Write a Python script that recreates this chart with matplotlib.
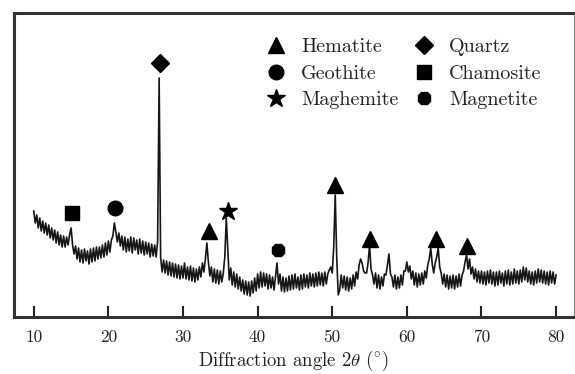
import numpy as np
import matplotlib
matplotlib.use("Agg")
import matplotlib.pyplot as plt
from matplotlib.lines import Line2D

plt.rcParams['font.family'] = ['cmr10', 'DejaVu Serif']
plt.rcParams['mathtext.fontset'] = 'cm'
plt.rcParams['axes.formatter.use_mathtext'] = True

# XRD intensity (arb. units), sampled every 0.2 deg from 10 to 80 deg
intensity = [
    106, 94, 102, 89, 99, 86, 96, 84, 94, 82,
    92, 79, 89, 77, 87, 74, 85, 72, 82, 70,
    81, 70, 80, 72, 82, 89, 72, 63, 71, 58,
    69, 55, 67, 54, 68, 56, 66, 53, 68, 55,
    69, 56, 70, 58, 70, 59, 72, 60, 74, 62,
    76, 65, 77, 81, 94, 85, 75, 84, 71, 81,
    67, 80, 65, 78, 66, 80, 64, 79, 67, 77,
    63, 78, 64, 76, 62, 75, 63, 74, 60, 73,
    61, 72, 60, 76, 239, 60, 45, 57, 44, 56,
    42, 55, 41, 54, 40, 53, 39, 52, 38, 51,
    39, 54, 38, 50, 37, 51, 36, 49, 35, 48,
    37, 50, 40, 54, 45, 58, 74, 55, 41, 50,
    35, 48, 34, 47, 33, 46, 35, 44, 60, 99,
    68, 37, 49, 32, 45, 30, 43, 28, 40, 26,
    37, 23, 36, 22, 35, 21, 36, 24, 39, 26,
    43, 29, 45, 30, 44, 31, 43, 28, 42, 29,
    40, 27, 41, 54, 33, 43, 26, 40, 25, 39,
    26, 41, 27, 42, 28, 43, 29, 40, 27, 42,
    28, 43, 30, 42, 29, 44, 31, 43, 30, 44,
    31, 45, 32, 44, 31, 45, 33, 43, 47, 50,
    44, 70, 122, 60, 22, 27, 42, 29, 41, 27,
    40, 26, 39, 28, 42, 31, 45, 38, 52, 58,
    54, 46, 44, 44, 54, 72, 48, 42, 33, 44,
    29, 42, 28, 40, 31, 43, 42, 52, 63, 43,
    40, 30, 42, 28, 40, 29, 42, 32, 46, 46,
    55, 45, 51, 38, 46, 32, 44, 30, 43, 32,
    44, 33, 46, 39, 52, 58, 69, 53, 44, 54,
    60, 69, 50, 44, 33, 43, 30, 42, 28, 41,
    29, 42, 28, 41, 30, 43, 31, 42, 46, 55,
    62, 48, 58, 43, 50, 38, 48, 35, 46, 34,
    46, 33, 45, 32, 46, 34, 47, 33, 45, 31,
    45, 32, 46, 34, 44, 31, 46, 33, 47, 32,
    45, 33, 48, 34, 46, 33, 47, 35, 50, 37,
    49, 35, 46, 33, 45, 32, 46, 34, 48, 35,
    47, 34, 46, 33, 45, 32, 46, 34, 45, 33,
    42,
]
two_theta = np.linspace(10, 80, len(intensity))

# phase markers: (phase, angle, height)
phase_names = ['Hematite', 'Geothite', 'Maghemite', 'Quartz', 'Chamosite', 'Magnetite']
phase_markers = ['^', 'o', '*', 'D', 's', '8']
phase_sizes = [11, 10.5, 13.5, 9, 9.5, 10]
peak_phase = ['Chamosite', 'Geothite', 'Quartz', 'Hematite', 'Maghemite', 'Magnetite',
              'Hematite', 'Hematite', 'Hematite', 'Hematite']
peak_angle = [15.1, 20.9, 26.9, 33.5, 36.05, 42.7, 50.4, 55.1, 63.9, 68.1]
peak_height = [104, 109, 254, 86, 106, 67, 132, 78, 78, 71]

xticks = [10, 20, 30, 40, 50, 60, 70, 80]

fig = plt.figure(figsize=(5.75, 3.74), dpi=100)
ax = fig.add_axes([14/575, 1-317/374, 560/575, 304/374])

ax.plot(two_theta, intensity, color='#161616', lw=1.2)

for ph, a, h in zip(peak_phase, peak_angle, peak_height):
    i = phase_names.index(ph)
    ax.plot([a], [h], linestyle='none', marker=phase_markers[i],
            markersize=phase_sizes[i], color='black')

ax.set_xlim(7.35, 82.4)
ax.set_ylim(0, 304)
ax.set_xticks(xticks)
ax.set_xticklabels([str(t) for t in xticks])
ax.set_yticks([])
ax.tick_params(axis='x', direction='in', length=8, width=1.5, pad=9,
               labelsize=12.5, labelcolor='#222222', color='#222222')
for s in ['left', 'top', 'bottom']:
    ax.spines[s].set_linewidth(2.2)
    ax.spines[s].set_color('#333333')
ax.spines['right'].set_linewidth(0.8)
ax.spines['right'].set_color('#888888')

ax.set_xlabel(r'Diffraction angle 2$\theta$ ($^{\circ}$)', fontsize=13.5,
              color='#222222', labelpad=3)

handles = [Line2D([], [], linestyle='none', marker=m, markersize=s, color='black')
           for m, s in zip(phase_markers, phase_sizes)]
leg = ax.legend(handles, phase_names, ncol=2, frameon=False, fontsize=14.5,
                loc='upper left', bbox_to_anchor=(264/575, 1-38/374),
                bbox_transform=fig.transFigure, handlelength=1.2,
                handletextpad=0.65, columnspacing=0.65, labelspacing=0.42,
                borderpad=0, borderaxespad=0)
for t in leg.get_texts():
    t.set_color('#222222')

fig.savefig('out.png', dpi=100)
